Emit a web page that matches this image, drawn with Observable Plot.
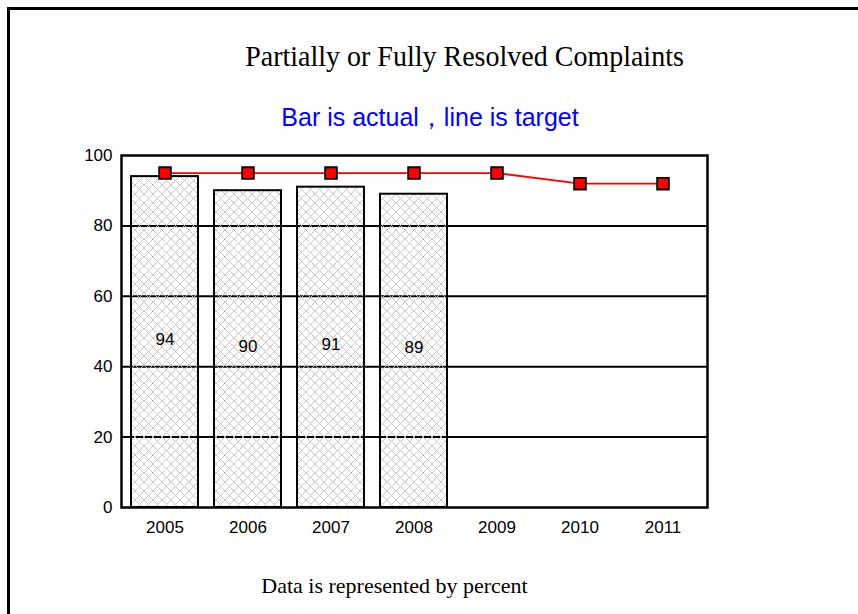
<!DOCTYPE html>
<html>
<head>
<meta charset="utf-8">
<script src="https://cdn.jsdelivr.net/npm/d3@7"></script>
<script src="https://cdn.jsdelivr.net/npm/@observablehq/plot@0.6"></script>
<style>
  html, body { margin: 0; padding: 0; background: #fff; }
  #page { position: relative; width: 858px; height: 614px; overflow: hidden; background: #fff; }
  #bordTop { position: absolute; left: 7px; top: 7px; width: 860px; height: 2.5px; background: #000; }
  #bordLeft { position: absolute; left: 7px; top: 7px; width: 2.5px; height: 620px; background: #000; }
  .t { position: absolute; white-space: nowrap; text-align: center; }
  #title { left: 0; width: 929px; top: 40px; font-family: "Liberation Serif", "Times New Roman", serif; font-size: 28px; color: #000; transform: scaleY(1.08); }
  #subtitle { left: 0; width: 860px; top: 101px; font-family: "Liberation Sans", Arial, sans-serif; font-size: 25px; color: #0000ff; }
  #caption { left: 0; width: 789px; top: 573px; font-family: "Liberation Serif", "Times New Roman", serif; font-size: 22px; color: #000; }
  #chart { position: absolute; left: 0; top: 140px; }
</style>
</head>
<body>
<div id="page">
  <div id="bordTop"></div>
  <div id="bordLeft"></div>
  <div class="t" id="title">Partially or Fully Resolved Complaints</div>
  <div class="t" id="subtitle">Bar is actual，line is target</div>
  <div id="chart"></div>
  <div class="t" id="caption">Data is represented by percent</div>
</div>
<script>
const years = ["2005", "2006", "2007", "2008", "2009", "2010", "2011"];
const actualYears = ["2005", "2006", "2007", "2008"];
const actualValues = [94, 90, 91, 89];
const targetValues = [95, 95, 95, 95, 95, 92, 92];
const yTicks = [0, 20, 40, 60, 80, 100];
const gridLines = [20, 40, 60, 80];

const actual = actualYears.map((y, i) => ({year: y, value: actualValues[i]}));
const target = years.map((y, i) => ({year: y, value: targetValues[i]}));

const svg = Plot.plot({
  width: 858,
  height: 400,
  marginLeft: 121,
  marginRight: 151,
  marginTop: 15,
  marginBottom: 33,
  style: {fontFamily: "'Liberation Sans', Arial, sans-serif", fontSize: "17px", color: "#000", background: "transparent"},
  x: {domain: years, paddingInner: 0.19, paddingOuter: 0.095, label: null},
  y: {domain: [0, 100], label: null},
  marks: [
    Plot.ruleY(gridLines, {stroke: "#000", strokeWidth: 2}),
    Plot.barY(actual, {x: "year", y: "value", fill: "url(#hatch)", stroke: "#000", strokeWidth: 2}),
    Plot.frame({stroke: "#000", strokeWidth: 2.5}),
    Plot.axisX({tickSize: 0, tickPadding: 13, fontSize: 17, label: null}),
    Plot.axisY({ticks: yTicks, tickSize: 0, tickPadding: 9, fontSize: 17, label: null}),
    Plot.line(target, {x: "year", y: "value", stroke: "#ff0000", strokeWidth: 1.8}),
    Plot.dot(target, {x: "year", y: "value", symbol: "square", r: 6.6, fill: "#ff0000", stroke: "#000", strokeWidth: 1.8}),
    Plot.text(actual, {x: "year", y: d => d.value / 2, text: d => String(d.value), fontSize: 17, dy: -3, fill: "#000"})
  ]
});

const defs = d3.select(svg).insert("defs", ":first-child");
const pat = defs.append("pattern")
  .attr("id", "hatch")
  .attr("patternUnits", "userSpaceOnUse")
  .attr("width", 9)
  .attr("height", 9);
pat.append("path")
  .attr("d", "M0,0L9,9M9,0L0,9M-1,8L1,10M8,-1L10,1M-1,1L1,-1M8,10L10,8")
  .attr("stroke", "#c2c2c2")
  .attr("stroke-width", 0.9)
  .attr("fill", "none");

document.getElementById("chart").appendChild(svg);
</script>
</body>
</html>
